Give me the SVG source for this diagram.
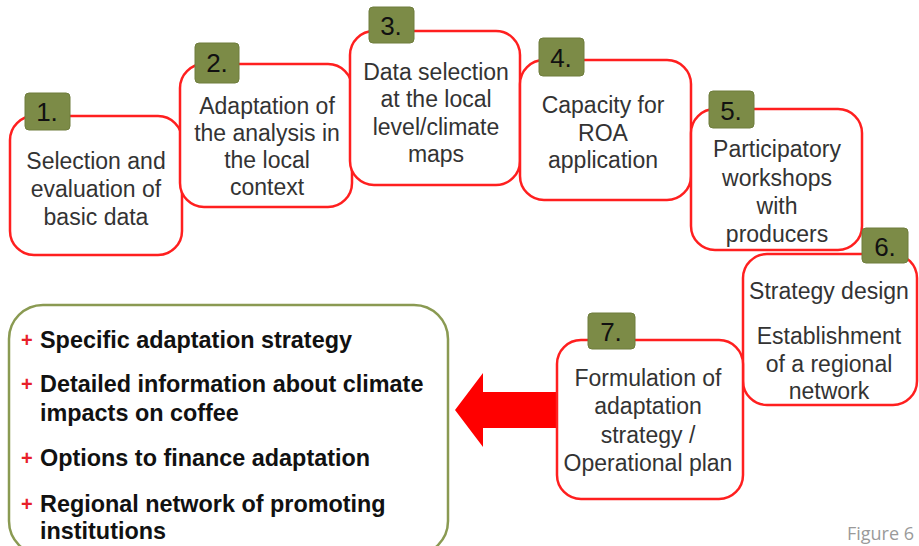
<svg xmlns="http://www.w3.org/2000/svg" width="919" height="546" viewBox="0 0 919 546">
<style>
.box{fill:#fff;stroke:#ff1f1f;stroke-width:2.5}
.badge{fill:#7c8b47;stroke:#6e7d3c;stroke-width:1}
.num{font-family:"Liberation Sans",Arial,sans-serif;font-size:26px;fill:#111;text-anchor:middle}
.t{font-family:"Liberation Sans",Arial,sans-serif;font-size:23px;fill:#333;text-anchor:middle}
.b{font-family:"Liberation Sans",Arial,sans-serif;font-size:23.4px;font-weight:bold;fill:#111}
.plus{font-family:"Liberation Sans",Arial,sans-serif;font-size:20px;font-weight:bold;fill:#e8202a}
</style>
<rect width="919" height="546" fill="#fff"/>
<g id="connectors">
<path d="M557,392 L483,392 L483,373 L455,410 L483,447 L483,428 L557,428 Z" fill="#ff0000"/>
</g>
<g id="n1">
<rect class="box" x="10" y="116" width="172" height="139" rx="24"/>
<rect class="badge" x="25" y="93" width="45" height="37" rx="4"/>
<text class="num" x="47" y="121">1.</text>
<text class="t" x="96" y="169">Selection and</text>
<text class="t" x="96" y="197">evaluation of</text>
<text class="t" x="96" y="225">basic data</text>
</g>
<g id="n2">
<rect class="box" x="180" y="64" width="172" height="143" rx="24"/>
<rect class="badge" x="195" y="43" width="44" height="40" rx="4"/>
<text class="num" x="217" y="72">2.</text>
<text class="t" x="267" y="114">Adaptation of</text>
<text class="t" x="267" y="141">the analysis in</text>
<text class="t" x="267" y="168">the local</text>
<text class="t" x="267" y="195">context</text>
</g>
<g id="n3">
<rect class="box" x="350" y="31" width="170" height="154" rx="24"/>
<rect class="badge" x="369" y="7" width="45" height="36" rx="4"/>
<text class="num" x="391" y="35">3.</text>
<text class="t" x="436" y="80">Data selection</text>
<text class="t" x="436" y="107">at the local</text>
<text class="t" x="436" y="135">level/climate</text>
<text class="t" x="436" y="162">maps</text>
</g>
<g id="n4">
<rect class="box" x="520" y="60" width="171" height="140" rx="24"/>
<rect class="badge" x="539" y="38" width="45" height="38" rx="4"/>
<text class="num" x="561" y="67">4.</text>
<text class="t" x="603" y="113">Capacity for</text>
<text class="t" x="603" y="141">ROA</text>
<text class="t" x="603" y="168">application</text>
</g>
<g id="n5">
<rect class="box" x="691" y="109" width="171" height="141" rx="24"/>
<rect class="badge" x="709" y="91" width="45" height="37" rx="4"/>
<text class="num" x="731" y="120">5.</text>
<text class="t" x="777" y="157">Participatory</text>
<text class="t" x="777" y="186">workshops</text>
<text class="t" x="777" y="214">with</text>
<text class="t" x="777" y="242">producers</text>
</g>
<g id="n6">
<rect class="box" x="743" y="254" width="174" height="151" rx="24"/>
<rect class="badge" x="862" y="228" width="46" height="35" rx="4"/>
<text class="num" x="885" y="256">6.</text>
<text class="t" x="829" y="299">Strategy design</text>
<text class="t" x="829" y="344">Establishment</text>
<text class="t" x="829" y="372">of a regional</text>
<text class="t" x="829" y="399">network</text>
</g>
<g id="n7">
<rect class="box" x="557" y="340" width="186" height="159" rx="24"/>
<rect class="badge" x="588" y="313" width="47" height="36" rx="4"/>
<text class="num" x="611" y="341">7.</text>
<text class="t" x="648" y="386">Formulation of</text>
<text class="t" x="648" y="414">adaptation</text>
<text class="t" x="648" y="443">strategy /</text>
<text class="t" x="648" y="471">Operational plan</text>
</g>
<g id="results">
<rect x="9" y="305" width="439" height="250" rx="34" fill="#fff" stroke="#8a9a52" stroke-width="2.5"/>
<text class="plus" x="21" y="347">+</text>
<text class="b" x="40" y="348">Specific adaptation strategy</text>
<text class="plus" x="21" y="391">+</text>
<text class="b" x="40" y="392">Detailed information about climate</text>
<text class="b" x="40" y="421">impacts on coffee</text>
<text class="plus" x="21" y="465">+</text>
<text class="b" x="40" y="466">Options to finance adaptation</text>
<text class="plus" x="21" y="511">+</text>
<text class="b" x="40" y="512">Regional network of promoting</text>
<text class="b" x="40" y="539">institutions</text>
</g>
<text x="914" y="540" font-family="'Open Sans',sans-serif" font-size="18" fill="#9a9a9a" text-anchor="end">Figure 6</text>
</svg>
